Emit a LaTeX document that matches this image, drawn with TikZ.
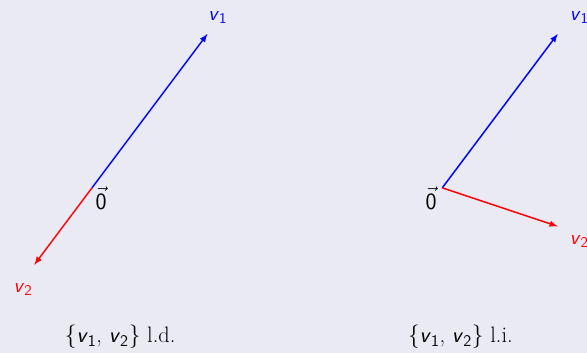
\documentclass[tikz,border=0pt]{standalone}
\usepackage{tikz}
\definecolor{bgcol}{RGB}{234,234,245}
\newcommand{\vsf}[1]{\textsf{\textit{v}}$_{\mathsf{#1}}$}
\newcommand{\zerovec}{$\vec{\mathsf{0}}$}
\tikzset{
    vecline/.style={line width=1.1pt,->},
    lbl/.style={inner sep=0pt,font=\fontsize{15}{18}\selectfont},
    zlbl/.style={inner sep=0pt,font=\fontsize{18}{21}\selectfont},
    caplbl/.style={inner sep=0pt,font=\fontsize{16.5}{20}\selectfont}
}

\begin{document}
\begin{tikzpicture}[>=latex]
    % background and page size
    \fill[bgcol] (-2.39,-4.29) rectangle (12.86,4.88);
    \useasboundingbox (-2.39,-4.29) rectangle (12.86,4.88);

    % Left: dependent pair
    \coordinate (o1) at (0,0);
    \coordinate (a1) at (3,4);
    \coordinate (b1) at (-1.5,-2);
    \draw[vecline,blue] (o1) -- (a1);
    \draw[vecline,red] (o1) -- (b1);
    \node[lbl,blue] (la1) at (3.27,4.42) {\vsf{1}};
    \node[lbl,red] (lb1) at (-1.79,-2.65) {\vsf{2}};
    \node[zlbl] (z1) at (0.24,-0.27) {\zerovec};
    \node[caplbl] (cap1) at (0.73,-3.87) {$\{$\vsf{1}, \vsf{2}$\}$ l.d.};

    % Right: independent pair
    \coordinate (o2) at (9.1,0);
    \coordinate (a2) at (12.1,4);
    \coordinate (b2) at (12.1,-1);
    \draw[vecline,blue] (o2) -- (a2);
    \draw[vecline,red] (o2) -- (b2);
    \node[lbl,blue] (la2) at (12.66,4.42) {\vsf{1}};
    \node[lbl,red] (lb2) at (12.66,-1.40) {\vsf{2}};
    \node[zlbl] (z2) at (8.81,-0.27) {\zerovec};
    \node[caplbl] (cap2) at (9.57,-3.87) {$\{$\vsf{1}, \vsf{2}$\}$ l.i.};
\end{tikzpicture}
\end{document}
